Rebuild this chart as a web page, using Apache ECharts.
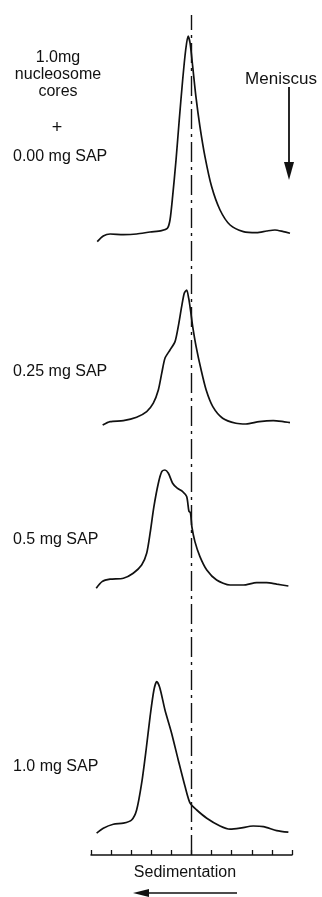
<!DOCTYPE html>
<html>
<head>
<meta charset="utf-8">
<script src="https://cdn.jsdelivr.net/npm/echarts@6/dist/echarts.min.js"></script>
<style>
  html, body { margin: 0; padding: 0; background: #fff; }
  #chart { width: 322px; height: 897px; }
</style>
</head>
<body>
<div id="chart"></div>
<script>
// sedimentation position (tick units, 0..10); meniscus at right, cores reference at 5
const refPosition = 5
const axisTicks = [0, 1, 2, 3, 4, 5, 6, 7, 8, 9, 10]

// absorbance traces (relative units)
const trace000 = [
  [0.31, 1.7], [0.61, 4.5], [0.95, 5.5], [1.61, 5.2], [2.27, 5.5], [2.94, 6.5],
  [3.51, 7.2], [3.80, 8.4], [3.93, 12.5], [4.06, 24.2], [4.23, 42.5], [4.39, 62.5],
  [4.56, 82.5], [4.71, 97.5], [4.83, 104.5], [4.93, 100.9], [5.06, 89.2], [5.22, 74.2],
  [5.42, 59.2], [5.67, 44.2], [6.00, 29.2], [6.42, 17.5], [6.92, 10.0], [7.58, 6.7],
  [8.24, 6.2], [8.74, 7.0], [9.15, 7.5], [9.57, 6.7], [9.90, 5.9]
]
const trace025 = [
  [0.58, 2.5], [0.95, 4.2], [1.61, 4.7], [2.27, 6.4], [2.77, 9.2], [3.10, 13.4],
  [3.35, 20.0], [3.52, 28.4], [3.68, 35.9], [3.93, 40.0], [4.18, 44.2], [4.34, 51.7],
  [4.51, 61.7], [4.64, 68.4], [4.76, 70.0], [4.86, 65.9], [4.96, 59.2], [5.06, 51.7],
  [5.23, 41.7], [5.48, 30.0], [5.73, 20.0], [6.06, 11.7], [6.55, 5.9], [7.21, 3.4],
  [7.71, 3.0], [8.37, 4.2], [9.07, 4.7], [9.57, 4.2], [9.90, 3.7]
]
const trace05 = [
  [0.26, 3.4], [0.55, 6.7], [0.95, 7.9], [1.61, 8.4], [2.10, 10.9], [2.52, 15.0],
  [2.77, 20.9], [2.94, 30.9], [3.13, 44.2], [3.35, 55.9], [3.52, 61.7], [3.68, 62.5],
  [3.85, 60.9], [4.06, 55.9], [4.29, 53.4], [4.56, 51.7], [4.76, 49.2], [4.87, 42.0],
  [4.95, 41.0], [5.02, 34.0], [5.17, 26.7], [5.42, 19.2], [5.76, 12.5], [6.25, 7.5],
  [6.92, 5.0], [7.58, 5.0], [8.24, 6.2], [8.74, 6.2], [9.24, 5.4], [9.82, 4.5]
]
const trace10 = [
  [0.28, 3.4], [0.61, 5.9], [1.11, 7.9], [1.61, 8.4], [2.02, 10.0], [2.27, 15.0],
  [2.52, 28.4], [2.74, 45.0], [2.94, 61.7], [3.13, 75.0], [3.27, 79.2], [3.43, 75.9],
  [3.68, 65.0], [4.01, 53.4], [4.34, 40.0], [4.68, 26.7], [4.93, 18.4], [5.26, 15.0],
  [5.76, 10.9], [6.42, 7.0], [6.92, 5.4], [7.41, 5.9], [8.07, 7.0], [8.58, 6.7],
  [9.24, 4.7], [9.82, 3.9]
]

const traceLabels = ['0.00 mg SAP', '0.25 mg SAP', '0.5 mg SAP', '1.0 mg SAP']
const traces = [trace000, trace025, trace05, trace10]

const chart = echarts.init(document.getElementById('chart'))
const font = '16px "Liberation Sans", Arial, sans-serif'

// one panel per trace, plus an overlay grid for the axis and the reference line
const panels = [
  { top: 15, height: 230, max: 115 },
  { top: 280, height: 150, max: 75 },
  { top: 460, height: 135, max: 67.5 },
  { top: 670, height: 170, max: 85 }
]

const grid = []
const xAxis = []
const yAxis = []
const series = []

panels.forEach((p, i) => {
  grid.push({ left: 91, right: 30, top: p.top, height: p.height })
  xAxis.push({ type: 'value', gridIndex: i, min: 0, max: 10, show: false })
  yAxis.push({ type: 'value', gridIndex: i, min: 0, max: p.max, show: false })
  series.push({
    name: traceLabels[i],
    type: 'line',
    xAxisIndex: i,
    yAxisIndex: i,
    data: traces[i],
    smooth: 0.25,
    showSymbol: false,
    silent: true,
    lineStyle: { color: '#111', width: 1.7 }
  })
})

// overlay
grid.push({ left: 91, right: 30, top: 15, bottom: 42 })
xAxis.push({
  type: 'value',
  gridIndex: 4,
  min: axisTicks[0],
  max: axisTicks[axisTicks.length - 1],
  interval: 1,
  axisLine: { show: true, lineStyle: { color: '#111', width: 1.5 } },
  axisTick: { show: true, inside: true, length: 5, lineStyle: { color: '#111', width: 1.3 } },
  axisLabel: { show: false },
  splitLine: { show: false }
})
yAxis.push({ type: 'value', gridIndex: 4, min: 0, max: 1, show: false })
series.push({
  type: 'line',
  xAxisIndex: 4,
  yAxisIndex: 4,
  data: [[refPosition, 0], [refPosition, 1]],
  showSymbol: false,
  silent: true,
  lineStyle: { color: '#111', width: 1.4, type: [20, 5, 3, 5] }
})

const labelY = [157, 372, 540, 767]
const graphic = [
  { type: 'text', style: { text: '1.0mg', x: 58, y: 58, font: font, fill: '#111', align: 'center', verticalAlign: 'middle', textAlign: 'center', textVerticalAlign: 'middle' } },
  { type: 'text', style: { text: 'nucleosome', x: 58, y: 75, font: font, fill: '#111', align: 'center', verticalAlign: 'middle', textAlign: 'center', textVerticalAlign: 'middle' } },
  { type: 'text', style: { text: 'cores', x: 58, y: 92, font: font, fill: '#111', align: 'center', verticalAlign: 'middle', textAlign: 'center', textVerticalAlign: 'middle' } },
  { type: 'text', style: { text: '+', x: 57, y: 128, font: '18px "Liberation Sans", Arial, sans-serif', fill: '#111', align: 'center', verticalAlign: 'middle', textAlign: 'center', textVerticalAlign: 'middle' } },
  { type: 'text', style: { text: 'Meniscus', x: 281, y: 79, font: '17px "Liberation Sans", Arial, sans-serif', fill: '#111', align: 'center', verticalAlign: 'middle', textAlign: 'center', textVerticalAlign: 'middle' } },
  { type: 'text', style: { text: 'Sedimentation', x: 185, y: 873, font: font, fill: '#111', align: 'center', verticalAlign: 'middle', textAlign: 'center', textVerticalAlign: 'middle' } },
  // meniscus arrow
  { type: 'line', shape: { x1: 289, y1: 87, x2: 289, y2: 166 }, style: { stroke: '#111', lineWidth: 1.8 } },
  { type: 'polygon', shape: { points: [[284, 162], [294, 162], [289, 180]] }, style: { fill: '#111' } },
  // sedimentation arrow
  { type: 'line', shape: { x1: 146, y1: 893, x2: 237, y2: 893 }, style: { stroke: '#111', lineWidth: 1.6 } },
  { type: 'polygon', shape: { points: [[149, 889], [149, 897], [133, 893]] }, style: { fill: '#111' } }
]
traceLabels.forEach((t, i) => {
  graphic.push({ type: 'text', style: { text: t, x: 13, y: labelY[i], font: font, fill: '#111', align: 'left', verticalAlign: 'middle', textAlign: 'left', textVerticalAlign: 'middle' } })
})

const option = {
  animation: false,
  backgroundColor: '#fff',
  grid: grid,
  xAxis: xAxis,
  yAxis: yAxis,
  series: series,
  graphic: graphic
}

chart.setOption(option)
window.onresize = () => {
  chart.resize()
}
</script>
</body>
</html>
